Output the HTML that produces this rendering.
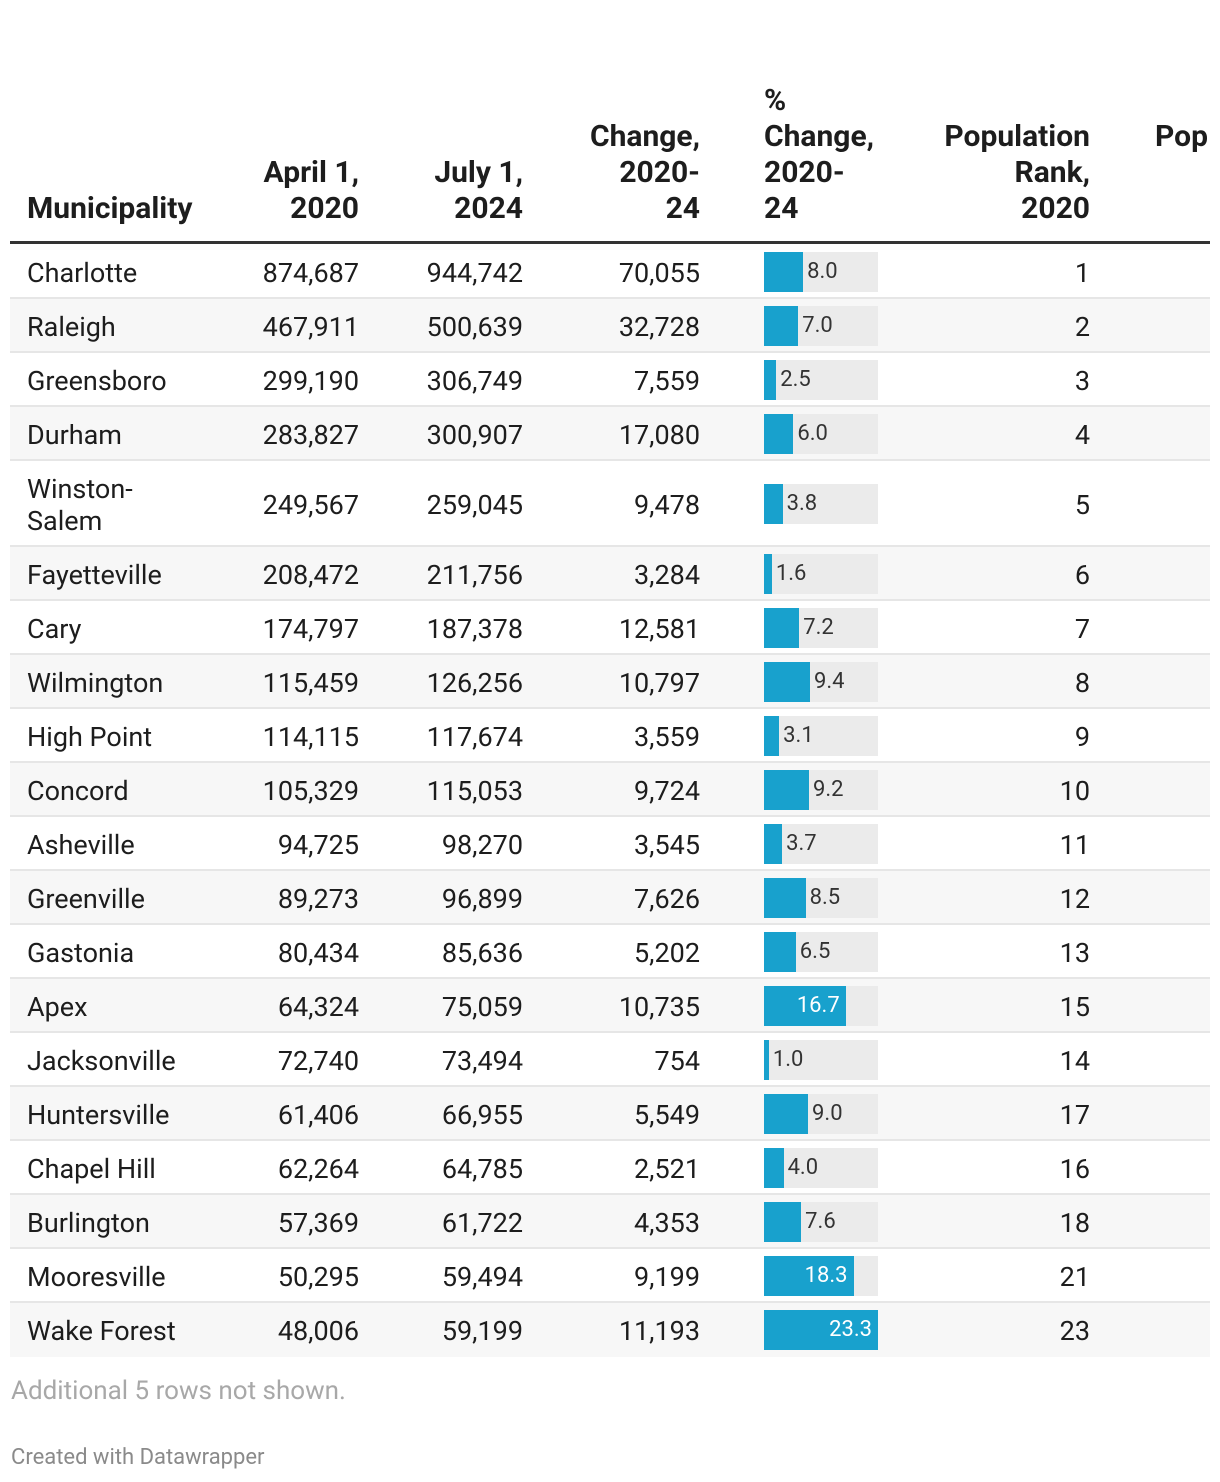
<!DOCTYPE html>
<html><head><meta charset="utf-8">
<style>
html,body{margin:0;padding:0;background:#fff;}
body{width:1220px;height:1482px;position:relative;overflow:hidden;font-family:"Roboto","Liberation Sans",sans-serif;color:#1d1d1d;}
.h{position:absolute;bottom:1255px;font-weight:bold;font-size:30px;line-height:36px;color:#1d1d1d;white-space:nowrap;}
.row{position:absolute;left:10px;width:1200px;border-bottom:2px solid #e6e6e6;box-sizing:border-box;}
.c{position:absolute;font-size:27px;line-height:32px;white-space:nowrap;}
.r{text-align:right;}
.bg{position:absolute;left:754px;width:114px;height:40px;background:#ebebeb;}
.bar{position:absolute;left:754px;height:40px;background:#18a1cd;}
.bl{position:absolute;font-size:22px;line-height:40px;}
</style></head><body>
<div class="h" style="left:27px;">Municipality</div>
<div class="h" style="right:861px;text-align:right;">April 1,<br>2020</div>
<div class="h" style="right:697px;text-align:right;">July 1,<br>2024</div>
<div class="h" style="right:520px;text-align:right;">Change,<br>2020-<br>24</div>
<div class="h" style="left:764px;">%<br>Change,<br>2020-<br>24</div>
<div class="h" style="right:130px;text-align:right;">Population<br>Rank,<br>2020</div>
<div class="h" style="left:1155px;">Pop<br>&nbsp;<br>&nbsp;</div>
<div style="position:absolute;left:10px;top:241px;width:1200px;height:3px;background:#333;"></div>
<div id="rows"></div>
<div style="position:absolute;left:11px;top:1376px;font-size:26px;color:#a8a8a8;">Additional 5 rows not shown.</div>
<div style="position:absolute;left:11px;top:1445px;font-size:22px;color:#8a8a8a;">Created with Datawrapper</div>
<script>
const names=["Charlotte","Raleigh","Greensboro","Durham","Winston-<br>Salem","Fayetteville","Cary","Wilmington","High Point","Concord","Asheville","Greenville","Gastonia","Apex","Jacksonville","Huntersville","Chapel Hill","Burlington","Mooresville","Wake Forest"];
const pop2020=["874,687","467,911","299,190","283,827","249,567","208,472","174,797","115,459","114,115","105,329","94,725","89,273","80,434","64,324","72,740","61,406","62,264","57,369","50,295","48,006"];
const pop2024=["944,742","500,639","306,749","300,907","259,045","211,756","187,378","126,256","117,674","115,053","98,270","96,899","85,636","75,059","73,494","66,955","64,785","61,722","59,494","59,199"];
const change=["70,055","32,728","7,559","17,080","9,478","3,284","12,581","10,797","3,559","9,724","3,545","7,626","5,202","10,735","754","5,549","2,521","4,353","9,199","11,193"];
const pct=[8.0,7.0,2.5,6.0,3.8,1.6,7.2,9.4,3.1,9.2,3.7,8.5,6.5,16.7,1.0,9.0,4.0,7.6,18.3,23.3];
const rank=[1,2,3,4,5,6,7,8,9,10,11,12,13,15,14,17,16,18,21,23];
const maxPct=23.3, barW=114;
const xBar=v=>v/maxPct*barW;
const cont=document.getElementById('rows');
let yPos=245;
names.forEach((n,i)=>{
  const h=n.includes('<br>')?86:54;
  const row=document.createElement('div');
  
  
  row.className='row';
  row.style.top=yPos+'px';row.style.height=h+'px';
  row.style.background=(i%2==1)?'#f7f7f7':'#fff';
  if(i==names.length-1)row.style.borderBottom='none';
  const mid=(h-2)/2+1;
  function cell(html,style,name,tall){
    const d=document.createElement('div');
    
    
    d.className='c'+(style.right?' r':'');
    d.innerHTML=html;
    Object.assign(d.style,style);
    d.style.top=(mid+1-(tall?32:16))+'px';
    row.appendChild(d);
  }
  cell(n,{left:'17px'},'municipality-name',n.includes('<br>'));
  cell(pop2020[i],{right:'851px'},'april-2020-value');
  cell(pop2024[i],{right:'687px'},'july-2024-value');
  cell(change[i],{right:'510px'},'change-value');
  cell(String(rank[i]),{right:'120px'},'rank-2020-value');
  const bg=document.createElement('div');
  
  
  bg.className='bg';bg.style.top=(mid-20)+'px';row.appendChild(bg);
  const w=xBar(pct[i]);
  const b=document.createElement('div');
  
  
  b.className='bar';b.style.top=(mid-20)+'px';b.style.width=w+'px';row.appendChild(b);
  const l=document.createElement('div');
  
  
  l.className='bl';l.style.top=(mid-20)+'px';
  l.textContent=pct[i].toFixed(1);
  if(w>70){l.style.right=(1200-754-w+6)+'px';l.style.color='#fff';}
  else{l.style.left=(754+w+4)+'px';l.style.color='#333';}
  row.appendChild(l);
  cont.appendChild(row);
  yPos+=h;
});
</script>
</body></html>
